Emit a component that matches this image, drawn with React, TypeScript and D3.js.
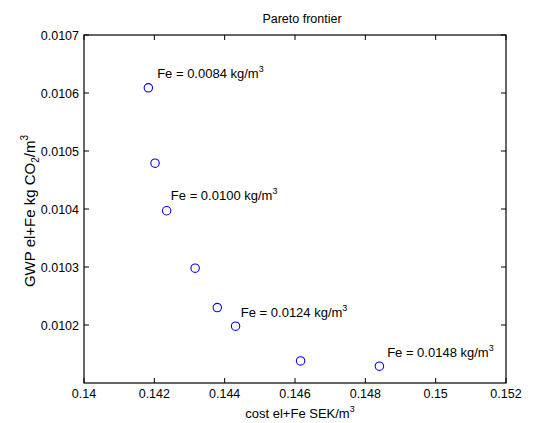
import React from 'react';
import * as d3 from 'd3';

// cost (SEK/m3) and GWP (kg CO2/m3) of the Pareto points
const costValues = [0.14183, 0.14202, 0.14235, 0.14316, 0.14379, 0.14431, 0.14616, 0.1484];
const gwpValues = [0.010609, 0.010479, 0.010397, 0.010298, 0.01023, 0.010198, 0.010138, 0.010129];

// annotations, placed in data units
const labelTexts = ['Fe = 0.0084 kg/m', 'Fe = 0.0100 kg/m', 'Fe = 0.0124 kg/m', 'Fe = 0.0148 kg/m'];
const labelCost = [0.14208, 0.14247, 0.14446, 0.14862];
const labelGwp = [0.010626, 0.010416, 0.010214, 0.010145];

const xTicks = [0.14, 0.142, 0.144, 0.146, 0.148, 0.15, 0.152];
const yTicks = [0.0102, 0.0103, 0.0104, 0.0105, 0.0106, 0.0107];

const W = 540;
const H = 423;
const left = 84, right = 506, top = 35, bottom = 383;
const font = 'Liberation Sans, Arial, sans-serif';

export default function App() {
  const x = d3.scaleLinear().domain([0.14, 0.152]).range([left, right]);
  const y = d3.scaleLinear().domain([0.0101, 0.0107]).range([bottom, top]);
  const tick = 5;

  return (
    <svg width={W} height={H} style={{ position: 'absolute', left: 0, top: 0, background: '#fff' }}
      fontFamily={font} fontSize={12.5}>
      <rect x={0} y={0} width={W} height={H} fill="#fff" />
      <text x={302} y={23} textAnchor="middle">Pareto frontier</text>

      {xTicks.map((t, i) => (
        <g key={'x' + i}>
          <line x1={x(t)} x2={x(t)} y1={bottom} y2={bottom - tick} stroke="#000" />
          <line x1={x(t)} x2={x(t)} y1={top} y2={top + tick} stroke="#000" />
          <text x={x(t)} y={398} textAnchor="middle">{d3.format('')(t)}</text>
        </g>
      ))}
      {yTicks.map((t, i) => (
        <g key={'y' + i}>
          <line x1={left} x2={left + tick} y1={y(t)} y2={y(t)} stroke="#000" />
          <line x1={right} x2={right - tick} y1={y(t)} y2={y(t)} stroke="#000" />
          <text x={79} y={y(t) + 4.5} textAnchor="end">{t.toFixed(4)}</text>
        </g>
      ))}
      <rect x={left} y={top} width={right - left} height={bottom - top} fill="none" stroke="#000" strokeWidth={1.2} />

      <text x={300} y={418} textAnchor="middle" fontSize={13}>
        cost el+Fe SEK/m<tspan dy={-6} fontSize={9}>3</tspan>
      </text>
      <text transform="translate(35,211) rotate(-90)" textAnchor="middle" fontSize={15}>
        GWP el+Fe kg CO<tspan dy={4} fontSize={10}>2</tspan><tspan dy={-4}>/m</tspan><tspan dy={-7} fontSize={10}>3</tspan>
      </text>

      {costValues.map((c, i) => (
        <circle key={'p' + i} cx={x(c)} cy={y(gwpValues[i])} r={4.2} fill="none" stroke="#0000ff" strokeWidth={1.1} />
      ))}
      {labelTexts.map((s, i) => (
        <text key={'l' + i} x={x(labelCost[i])} y={y(labelGwp[i])} fontSize={13}>
          {s}<tspan dy={-6} fontSize={9}>3</tspan>
        </text>
      ))}
    </svg>
  );
}
